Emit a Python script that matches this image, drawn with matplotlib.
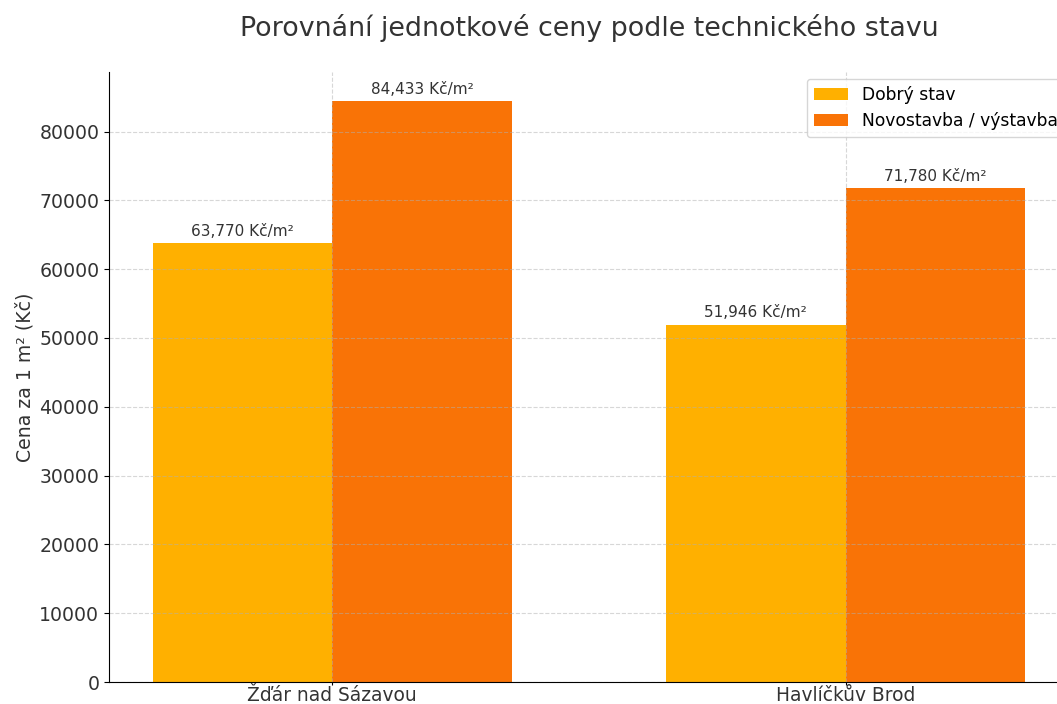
import numpy as np
import matplotlib as mpl
mpl.use('Agg')
import matplotlib.pyplot as plt

# data
mesta = ['Žďár nad Sázavou', 'Havlíčkův Brod']
dobry_stav = [63770, 51946]
novostavba = [84433, 71780]
serie = ['Dobrý stav', 'Novostavba / výstavba']
barvy = ['#FFB000', '#F97306']

plt.rcParams['font.family'] = 'DejaVu Sans'
txt = '#333333'

fig = plt.figure(figsize=(10.57, 7.04), dpi=100)
ax = fig.add_axes([109/1057, 1-682/704, (1069-109)/1057, (682-72)/704])

x = np.arange(len(mesta))
w = 0.35
b1 = ax.bar(x - w/2, dobry_stav, w, label=serie[0], color=barvy[0])
b2 = ax.bar(x + w/2, novostavba, w, label=serie[1], color=barvy[1])

for bars in (b1, b2):
    ax.bar_label(bars, labels=[f"{v:,.0f} Kč/m²" for v in bars.datavalues],
                 padding=3, fontsize=11, color=txt)

ax.set_xticks(x)
ax.set_xticklabels(mesta, fontsize=13.4, color=txt)
ax.tick_params(axis='x', pad=0.3, length=2.5)
ax.tick_params(axis='y', labelsize=13.6, labelcolor=txt)
ax.set_ylabel('Cena za 1 m² (Kč)', fontsize=13.6, color=txt, labelpad=3)
fig.text(589/1057, 1-28/704, 'Porovnání jednotkové ceny podle technického stavu',
         ha='center', va='center', fontsize=19.4, color=txt)

ax.grid(True, linestyle='--', alpha=0.5)
ax.spines['top'].set_visible(False)
ax.spines['right'].set_visible(False)
ax.legend(loc='upper right', fontsize=12.3, bbox_to_anchor=(1.004, 1.003))

fig.savefig('out.png', dpi=100)
